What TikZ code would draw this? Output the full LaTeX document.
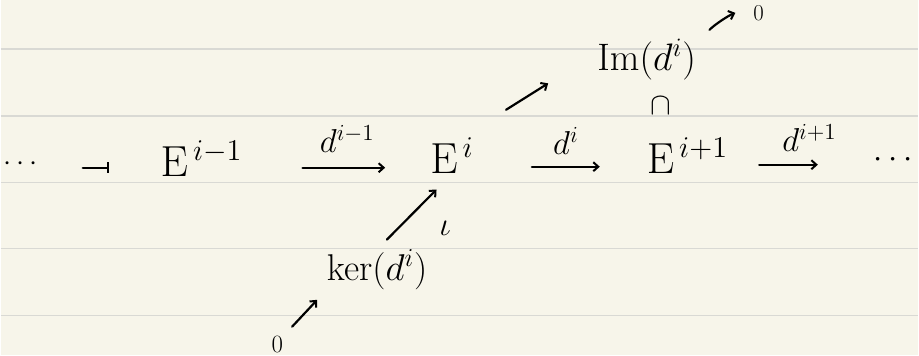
\documentclass[tikz,border=0pt]{standalone}
\usetikzlibrary{arrows.meta,calc}
\definecolor{paper}{HTML}{F7F5EA}
\definecolor{ruling}{HTML}{D9D9D4}
\begin{document}
\begin{tikzpicture}[x=1pt,y=-1pt,
  hand/.style={line width=2.2pt, line cap=round, line join=round},
  arr/.style={hand, -{Straight Barb[length=5pt,width=9pt,line width=2pt]}},
  txt/.style={font=\fontsize{20}{24}\selectfont, inner sep=0pt}]
\fill[paper] (0,0) rectangle (919,356);
\foreach \y in {49,116,183,249,316} \draw[ruling, line width=1.6pt] (0,\y) -- (919,\y);
\useasboundingbox (0,0) rectangle (919,356);

\node[txt] (dotsL) at (20,164) {\scalebox{1.4}{$\cdots$}};
\node[txt, anchor=base west] (E1) at (160,177) {\scalebox{2.1}{$\mathrm{E}^{\,i-1}$}};
\node[txt, anchor=base west] (E2) at (430,174) {\scalebox{2.1}{$\mathrm{E}^{\,i}$}};
\node[txt, anchor=base west] (E3) at (647,174) {\scalebox{2.1}{$\mathrm{E}^{\,i+1}$}};
\node[txt] (dotsR) at (894,160) {\scalebox{1.6}{$\cdots$}};

\node[txt, anchor=south] (l1) at (347,153) {\scalebox{1.6}{$d^{i-1}$}};
\node[txt, anchor=south] (l2) at (566,155) {\scalebox{1.6}{$d^{i}$}};
\node[txt, anchor=south] (l3) at (810,152) {\scalebox{1.6}{$d^{i+1}$}};

\node[txt] (Im) at (647,60) {\scalebox{1.85}{$\mathrm{Im}(d^{i})$}};
\node[txt] (zT) at (759,13) {\scalebox{1.1}{$0$}};
\node[txt] (cap) at (661,106) {\scalebox{1.5}{$\cap$}};
\node[txt] (ker) at (377,270) {\scalebox{1.8}{$\ker(d^{i})$}};
\node[txt] (iota) at (445,229) {\scalebox{1.6}{$\iota$}};
\node[txt] (zB) at (277,345) {\scalebox{1.2}{$0$}};

\draw[hand, -{Bar[width=11pt,line width=2pt]}, shorten <=45pt, shorten >=52pt] ([yshift=-4pt]dotsL.east) -- ([yshift=9pt]E1.base west);
\draw[arr, shorten <=60pt, shorten >=45pt] ([yshift=9pt]E1.base east) -- ([yshift=6pt]E2.base west);
\draw[arr, shorten <=58pt, shorten >=47pt] ([yshift=7pt]E2.base east) -- ([yshift=7pt]E3.base west);
\draw[arr, shorten <=31pt, shorten >=56pt] ([yshift=9pt]E3.base east) -- ([yshift=-5pt]dotsR.west);

\draw[arr, shorten <=38pt, shorten >=58pt] ([yshift=8pt]E2.north east) -- ([yshift=28pt]Im.south west);
\draw[arr, shorten <=19pt, shorten >=19pt] ([yshift=-4pt]Im.north east) to[bend left=12] ([yshift=7pt]zT.west);
\draw[arr, shorten <=14pt, shorten >=22pt] (ker.north) -- (E2.south);
\draw[arr, shorten <=13pt, shorten >=14pt] (zB.north east) -- (ker.south west);
\end{tikzpicture}
\end{document}
